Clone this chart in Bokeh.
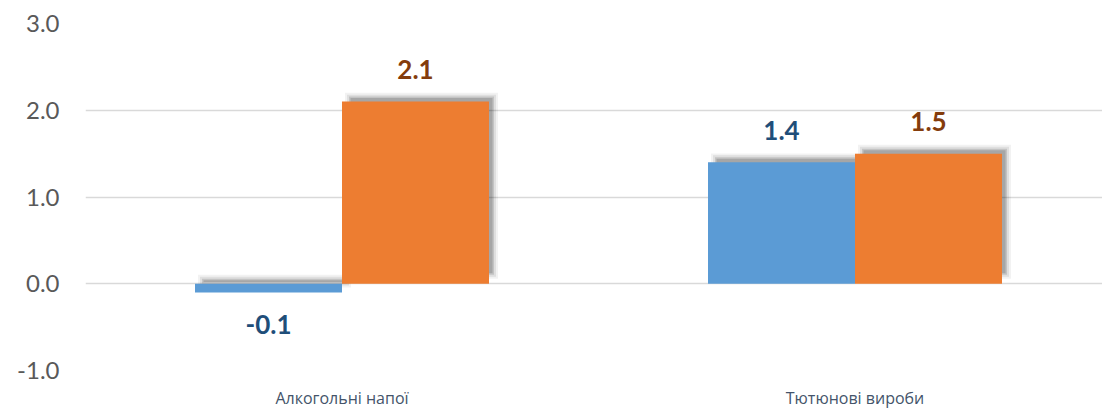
from bokeh.plotting import figure
from bokeh.models import ColumnDataSource, FixedTicker, Range1d, NumeralTickFormatter
from bokeh.core.properties import value
from bokeh.embed import file_html
from bokeh.resources import INLINE

categories = ["Алкогольні напої", "Тютюнові вироби"]
series_blue = [-0.1, 1.4]
series_orange = [2.1, 1.5]
y_ticks = [-1.0, 0.0, 1.0, 2.0, 3.0]

BLUE = "#5B9BD5"
ORANGE = "#ED7D31"
BLUE_LBL = "#1F4E79"
ORANGE_LBL = "#843C0C"

W, H = 1102, 411
BL, BR, BT, BB = 85, 0, 23, 38
frame_w = W - BL - BR
frame_h = H - BT - BB
cat_px = 513.0
x_end = frame_w / cat_px
y0, y1 = -1.0, 3.0
ux = x_end / frame_w
uy = (y1 - y0) / frame_h
bw = 147.0 / cat_px

p = figure(width=W, height=H, output_backend="svg", toolbar_location=None,
           x_range=Range1d(0, x_end), y_range=Range1d(y0, y1),
           min_border_left=BL, min_border_right=BR, min_border_top=BT, min_border_bottom=BB)
p.outline_line_color = None
p.background_fill_color = "white"
p.border_fill_color = "white"

xb = [i + 0.5 - bw / 2 for i in range(len(categories))]
xo = [i + 0.5 + bw / 2 for i in range(len(categories))]

# soft shadows (offset up-right, blurred)
sx, sy = 3 * ux, 3 * uy
for e, a in [(6, 0.05), (4, 0.08), (2, 0.12), (0.5, 0.15)]:
    ex, ey = e * ux, e * uy
    for xs, vals in ((xb, series_blue), (xo, series_orange)):
        left = [x - bw / 2 + sx - ex + 6 * ux for x in xs]
        right = [x + bw / 2 + sx + ex for x in xs]
        top = [max(v, 0) + sy + ey for v in vals]
        bottom = [min(v, 0) + sy - ey + 8 * uy for v in vals]
        p.quad(left=left, right=right, top=top, bottom=bottom,
               fill_color="black", fill_alpha=a, line_color=None)

src_b = ColumnDataSource(dict(x=xb, v=series_blue, lbl=[f"{v:.1f}" for v in series_blue],
                              off=[32 if v < 0 else -32 for v in series_blue]))
src_o = ColumnDataSource(dict(x=xo, v=series_orange, lbl=[f"{v:.1f}" for v in series_orange],
                              off=[32 if v < 0 else -32 for v in series_orange]))

p.vbar(x="x", top="v", bottom=0, width=bw, source=src_b, fill_color=BLUE, line_color=None)
p.vbar(x="x", top="v", bottom=0, width=bw, source=src_o, fill_color=ORANGE, line_color=None)

for src, col in ((src_b, BLUE_LBL), (src_o, ORANGE_LBL)):
    p.text(x="x", y="v", text="lbl", y_offset="off", source=src,
           text_font=value("Lato"), text_font_style="bold", text_font_size="26px",
           text_color=col, text_align="center", text_baseline="middle")

p.yaxis.ticker = FixedTicker(ticks=y_ticks)
p.yaxis.formatter = NumeralTickFormatter(format="0.0")
p.yaxis.axis_line_color = None
p.yaxis.major_tick_line_color = None
p.yaxis.minor_tick_line_color = None
p.yaxis.major_tick_out = 0
p.yaxis.major_label_standoff = 26
p.yaxis.major_label_text_font = "Lato"
p.yaxis.major_label_text_font_size = "24px"
p.yaxis.major_label_text_color = "#595959"

p.xaxis.ticker = FixedTicker(ticks=[i + 0.5 for i in range(len(categories))])
p.xaxis.major_label_overrides = {i + 0.5: c for i, c in enumerate(categories)}
p.xaxis.axis_line_color = None
p.xaxis.major_tick_line_color = None
p.xaxis.minor_tick_line_color = None
p.xaxis.major_tick_out = 0
p.xaxis.major_label_standoff = 16
p.xaxis.major_label_text_font = "Open Sans"
p.xaxis.major_label_text_font_size = "16px"
p.xaxis.major_label_text_color = "#44546A"

p.xgrid.grid_line_color = None
p.ygrid.grid_line_color = "#D9D9D9"
p.ygrid.grid_line_width = 1.5

open("out.html", "w").write(file_html(p, INLINE))
